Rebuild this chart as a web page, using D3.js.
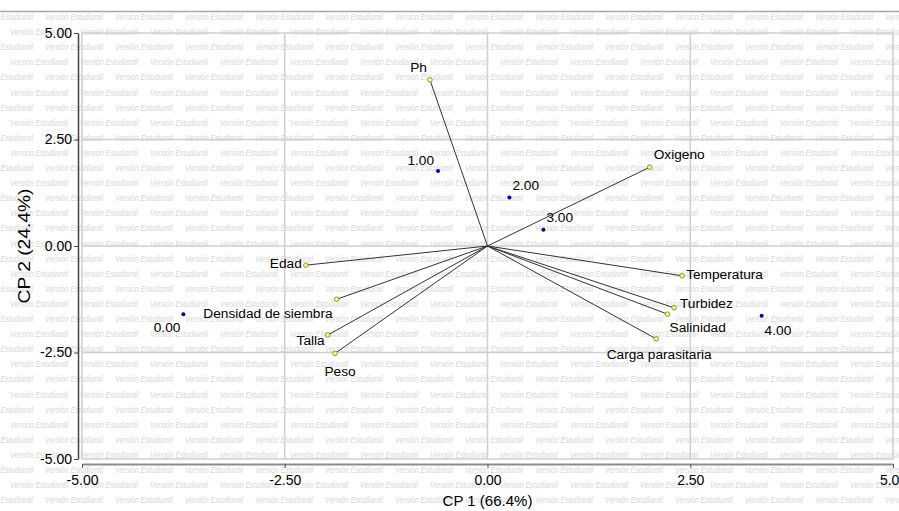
<!DOCTYPE html>
<html>
<head>
<meta charset="utf-8">
<script src="https://cdn.jsdelivr.net/npm/d3@7"></script>
<style>
  body { margin: 0; background: #fff; }
  svg { display: block; font-family: "Liberation Sans", Arial, sans-serif; }
  .tick text { font-size: 14px; fill: #000; }
  .wm { font-size: 9px; font-style: italic; fill: #d6d6d6; }
  .lbl { font-size: 13.7px; fill: #000; }
</style>
</head>
<body>
<svg width="899" height="511"></svg>
<script>
(function (d3) {
  'use strict';

  // variables (loadings on CP1 / CP2)
  var varNames = ["Ph", "Oxigeno", "Temperatura", "Turbidez", "Salinidad", "Carga parasitaria",
    "Edad", "Densidad de siembra", "Talla", "Peso"];
  var varCp1 = [-0.71, 2.00, 2.40, 2.30, 2.22, 2.08, -2.24, -1.86, -1.97, -1.88];
  var varCp2 = [3.90, 1.85, -0.70, -1.45, -1.60, -2.18, -0.45, -1.25, -2.09, -2.52];

  // observations
  var obsNames = ["0.00", "1.00", "2.00", "3.00", "4.00"];
  var obsCp1 = [-3.75, -0.61, 0.27, 0.69, 3.38];
  var obsCp2 = [-1.60, 1.76, 1.14, 0.38, -1.64];

  var tickValues = [-5, -2.5, 0, 2.5, 5];
  var gridValues = [-2.5, 0, 2.5];
  var xAxisLabel = "CP 1 (66.4%)";
  var yAxisLabel = "CP 2 (24.4%)";
  var watermark = "Versión Estudiantil";

  // label placement (anchor, dx, dy) for each mark
  var varLabelPos = [["end", -3, -8], ["start", 4, -8], ["start", 4, 3], ["start", 6, 0],
    ["start", 2, 18], ["middle", 3, 20], ["end", -4, 3], ["end", -4, 19], ["end", -3, 10], ["middle", 5, 23]];
  var obsLabelPos = [["end", -3, 18], ["end", -4, -6], ["start", 3, -7], ["start", 3, -8], ["start", 3, 19]];

  var svg = d3.select("svg");
  var width = +svg.attr("width");

  var plot = { left: 82, right: 893, top: 33, bottom: 459 };

  // watermark
  var wm = svg.append("g");
  for (var i = 0; i < 34; i++) {
    var off = i % 2 === 0 ? 45 : 10;
    for (var x0 = off - 70; x0 < width; x0 += 70) {
      wm.append("text")
        .attr("class", "wm")
        .attr("x", x0)
        .attr("y", 17 + 15.1 * i + 3)
        .attr("textLength", 58)
        .attr("lengthAdjust", "spacingAndGlyphs")
        .text(watermark);
    }
  }

  // top rule
  svg.append("line")
    .attr("x1", 0).attr("x2", width)
    .attr("y1", 11.5).attr("y2", 11.5)
    .attr("stroke", "#a8a8a8").attr("stroke-width", 1.5);

  //scales
  var xScale = d3.scaleLinear().domain([-5, 5]).range([plot.left, plot.right]);
  var yScale = d3.scaleLinear().domain([-5, 5]).range([plot.bottom, plot.top]);

  // frame + grid
  var g = svg.append("g");
  g.append("rect")
    .attr("x", plot.left).attr("y", plot.top)
    .attr("width", plot.right - plot.left).attr("height", plot.bottom - plot.top)
    .attr("fill", "none").attr("stroke", "#cfcfcf").attr("stroke-width", 1.5);

  g.selectAll(".gx").data(gridValues).enter().append("line")
    .attr("x1", function (d) { return xScale(d); })
    .attr("x2", function (d) { return xScale(d); })
    .attr("y1", plot.top).attr("y2", plot.bottom)
    .attr("stroke", "#cfcfcf").attr("stroke-width", 1.5);

  g.selectAll(".gy").data(gridValues).enter().append("line")
    .attr("y1", function (d) { return yScale(d); })
    .attr("y2", function (d) { return yScale(d); })
    .attr("x1", plot.left).attr("x2", plot.right)
    .attr("stroke", "#cfcfcf").attr("stroke-width", 1.5);

  // axis
  var fmt = function (d) { return d.toFixed(2); };
  var xAxis = d3.axisBottom(xScale).tickValues(tickValues).tickFormat(fmt)
    .tickSize(4).tickSizeOuter(0).tickPadding(7);
  var yAxis = d3.axisLeft(yScale).tickValues(tickValues).tickFormat(fmt)
    .tickSize(4).tickSizeOuter(0).tickPadding(2);

  var xAxisGroup = svg.append("g")
    .attr("transform", "translate(0,464)")
    .call(xAxis);
  xAxisGroup.select(".domain").attr("stroke", "#8c8c8c").attr("stroke-width", 2);
  xAxisGroup.selectAll(".tick line").attr("stroke", "#555");

  var yAxisGroup = svg.append("g")
    .attr("transform", "translate(78,0)")
    .call(yAxis);
  yAxisGroup.select(".domain").attr("stroke", "#444").attr("stroke-width", 1.5);
  yAxisGroup.selectAll(".tick line").attr("stroke", "#444");
  xAxisGroup.attr("font-family", null).attr("font-size", null);
  yAxisGroup.attr("font-family", null).attr("font-size", null);

  // axis labels
  svg.append("text")
    .text(xAxisLabel)
    .attr("x", xScale(0))
    .attr("y", 506)
    .attr("text-anchor", "middle")
    .attr("font-size", "15px");

  svg.append("text")
    .text(yAxisLabel)
    .attr("transform", "translate(30," + yScale(0) + ") rotate(-90)")
    .attr("text-anchor", "middle")
    .attr("font-size", "16px")
    .attr("textLength", 115)
    .attr("lengthAdjust", "spacingAndGlyphs");

  // vectors
  var vars = varNames.map(function (n, k) {
    return { name: n, x: varCp1[k], y: varCp2[k], pos: varLabelPos[k] };
  });
  var obs = obsNames.map(function (n, k) {
    return { name: n, x: obsCp1[k], y: obsCp2[k], pos: obsLabelPos[k] };
  });

  g.selectAll(".vec").data(vars).enter().append("line")
    .attr("x1", xScale(0)).attr("y1", yScale(0))
    .attr("x2", function (d) { return xScale(d.x); })
    .attr("y2", function (d) { return yScale(d.y); })
    .attr("stroke", "#333").attr("stroke-width", 1);

  g.selectAll(".vpt").data(vars).enter().append("circle")
    .attr("cx", function (d) { return xScale(d.x); })
    .attr("cy", function (d) { return yScale(d.y); })
    .attr("r", 2.3)
    .attr("fill", "#ffff66").attr("stroke", "#7a7a30").attr("stroke-width", 0.8);

  g.selectAll(".vlbl").data(vars).enter().append("text")
    .attr("class", "lbl")
    .attr("x", function (d) { return xScale(d.x) + d.pos[1]; })
    .attr("y", function (d) { return yScale(d.y) + d.pos[2]; })
    .attr("text-anchor", function (d) { return d.pos[0]; })
    .text(function (d) { return d.name; });

  g.selectAll(".opt").data(obs).enter().append("circle")
    .attr("cx", function (d) { return xScale(d.x); })
    .attr("cy", function (d) { return yScale(d.y); })
    .attr("r", 2)
    .attr("fill", "#0000a0");

  g.selectAll(".olbl").data(obs).enter().append("text")
    .attr("class", "lbl")
    .attr("x", function (d) { return xScale(d.x) + d.pos[1]; })
    .attr("y", function (d) { return yScale(d.y) + d.pos[2]; })
    .attr("text-anchor", function (d) { return d.pos[0]; })
    .text(function (d) { return d.name; });

}(d3));
</script>
</body>
</html>
